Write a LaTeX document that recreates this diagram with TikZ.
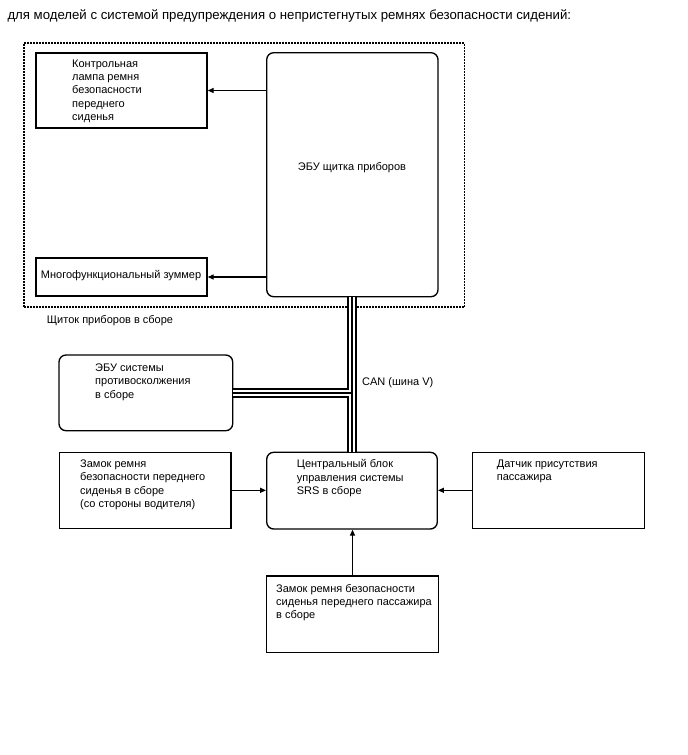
\documentclass[tikz,border=0pt]{standalone}
\usepackage{fontspec}
\setmainfont{Liberation Sans}
\usetikzlibrary{arrows.meta}
\tikzset{
  box/.style={draw, line width=1.35pt, inner sep=0pt, minimum width=#1},
  sharpbox/.style={box=#1},
  roundbox/.style={box=#1, rounded corners=7pt},
  txt/.style={inner sep=0pt, anchor=north west, align=left, font=\fontsize{11}{13.3}\selectfont, execute at begin node=\strut},
  arr/.style={line width=1.3pt, -{Triangle[length=6pt,width=5pt]}},
  panel/.style={line width=1.2pt, dash pattern=on 1.6pt off 1.4pt},
}
\begin{document}
\begin{tikzpicture}[x=1pt,y=-1pt]
\useasboundingbox (0,0) rectangle (688,755);
\node[inner sep=0pt, anchor=base west, font=\fontsize{13.2}{15}\selectfont] (title) at (7.3,19.6) {для моделей с системой предупреждения о непристегнутых ремнях безопасности сидений:};

% instrument panel frame
\node[draw, panel, inner sep=0pt, minimum width=440.5pt, minimum height=264pt] (panel) at (244.25,175) {};
\node[txt] (panellbl) at (46.7,313.8) {Щиток приборов в сборе};

% boxes
\node[sharpbox=171pt, minimum height=75pt] (lamp) at (121.5,90.5) {};
\node[txt] (lamptxt) at (72,59.4) {Контрольная\\лампа ремня\\безопасности\\переднего\\сиденья};

\node[roundbox=171.3pt, minimum height=244pt] (ecu) at (352.35,174.7) {};
\node[inner sep=0pt, font=\fontsize{11}{13.3}\selectfont] (ecutxt) at (352,167.2) {ЭБУ щитка приборов};

\node[sharpbox=171pt, minimum height=38pt] (buz) at (121.5,277) {};
\node[txt] (buztxt) at (40.7,268.8) {Многофункциональный зуммер};

\node[roundbox=173.7pt, minimum height=75.7pt] (abs) at (145.85,392.85) {};
\node[txt] (abstxt) at (95,363.7) {ЭБУ системы\\противосколжения\\в сборе};

\node[sharpbox=171.7pt, minimum height=76pt] (drv) at (145.15,490.3) {};
\node[txt] (drvtxt) at (80,459.6) {Замок ремня\\безопасности переднего\\сиденья в сборе\\(со стороны водителя)};

\node[roundbox=170.6pt, minimum height=76.7pt] (srs) at (352,490.65) {};
\node[txt] (srstxt) at (296.7,459.6) {Центральный блок\\управления системы\\SRS в сборе};

\node[sharpbox=171.6pt, minimum height=76pt] (occ) at (558.5,490.3) {};
\node[txt] (occtxt) at (496.7,459.6) {Датчик присутствия\\пассажира};

\node[sharpbox=171.6pt, minimum height=76.3pt] (pas) at (352.5,614.15) {};
\node[txt] (pastxt) at (276,583.8) {Замок ремня безопасности\\сиденья переднего пассажира\\в сборе};

\node[txt] (canlbl) at (362,376) {CAN (шина V)};

% arrows
\draw[arr] (ecu.west |- lamp.east) -- (lamp.east);
\draw[arr] (ecu.west |- buz.east) -- (buz.east);
\draw[arr] (drv.east) -- (srs.west |- drv.east);
\draw[arr] (occ.west) -- (srs.east |- occ.west);
\draw[arr] (pas.north) -- (pas.north |- srs.south);

% CAN bus (triple line)
\coordinate (canTop) at (ecu.south);
\coordinate (canBot) at (ecu.south |- srs.north);
\coordinate (canJ) at (abs.east -| ecu.south);
\foreach \w/\c in {10pt/black, 6pt/white, 1.9pt/black}{
  \draw[line width=\w, \c] (canTop) -- (canBot);
  \draw[line width=\w, \c] (abs.east) -- (canJ);
}
\end{tikzpicture}
\end{document}
